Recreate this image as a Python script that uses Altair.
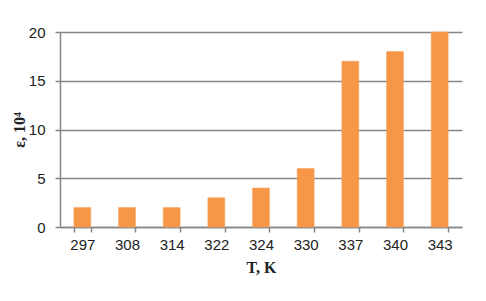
import altair as alt
import pandas as pd

temps = ["297", "308", "314", "322", "324", "330", "337", "340", "343"]
eps = [2, 2, 2, 3, 4, 6, 17, 18, 20]
y_ticks = [0, 5, 10, 15, 20]

df = pd.DataFrame({"T": temps, "eps": eps})

chart = alt.Chart(df).mark_bar(color="#F79646", stroke="#F9A565", strokeWidth=0.5).encode(
    x=alt.X("T:N", sort=temps,
            scale=alt.Scale(paddingInner=0.62, paddingOuter=0.31),
            axis=alt.Axis(title="T, K", labelAngle=0, tickBand="extent",
                          labelFont="Liberation Sans", labelFontSize=15, labelColor="#222",
                          labelPadding=5, tickSize=5, tickColor="#868686", tickWidth=1.5,
                          domainColor="#868686", domainWidth=1.5,
                          titleFont="Liberation Serif", titleFontSize=16, titleFontWeight="bold",
                          titleColor="#222", titlePadding=7, grid=False)),
    y=alt.Y("eps:Q", scale=alt.Scale(domain=[0, 20], nice=False),
            axis=alt.Axis(title="ε, 10⁴", values=y_ticks,
                          labelFont="Liberation Sans", labelFontSize=15, labelColor="#222",
                          labelPadding=10, tickSize=5, tickColor="#868686", tickWidth=1.5,
                          domainColor="#868686", domainWidth=1.5,
                          gridColor="#868686", gridWidth=1.5,
                          titleFont="Liberation Serif", titleFontSize=16, titleFontWeight="bold",
                          titleColor="#222", titlePadding=1)),
).properties(
    width=402, height=195,
    autosize=alt.AutoSizeParams(type="none"),
    padding={"left": 52, "top": 24, "right": 16, "bottom": 66},
).configure_view(stroke=None)

chart.save("out.html", embed_options={"renderer": "svg", "actions": False})
